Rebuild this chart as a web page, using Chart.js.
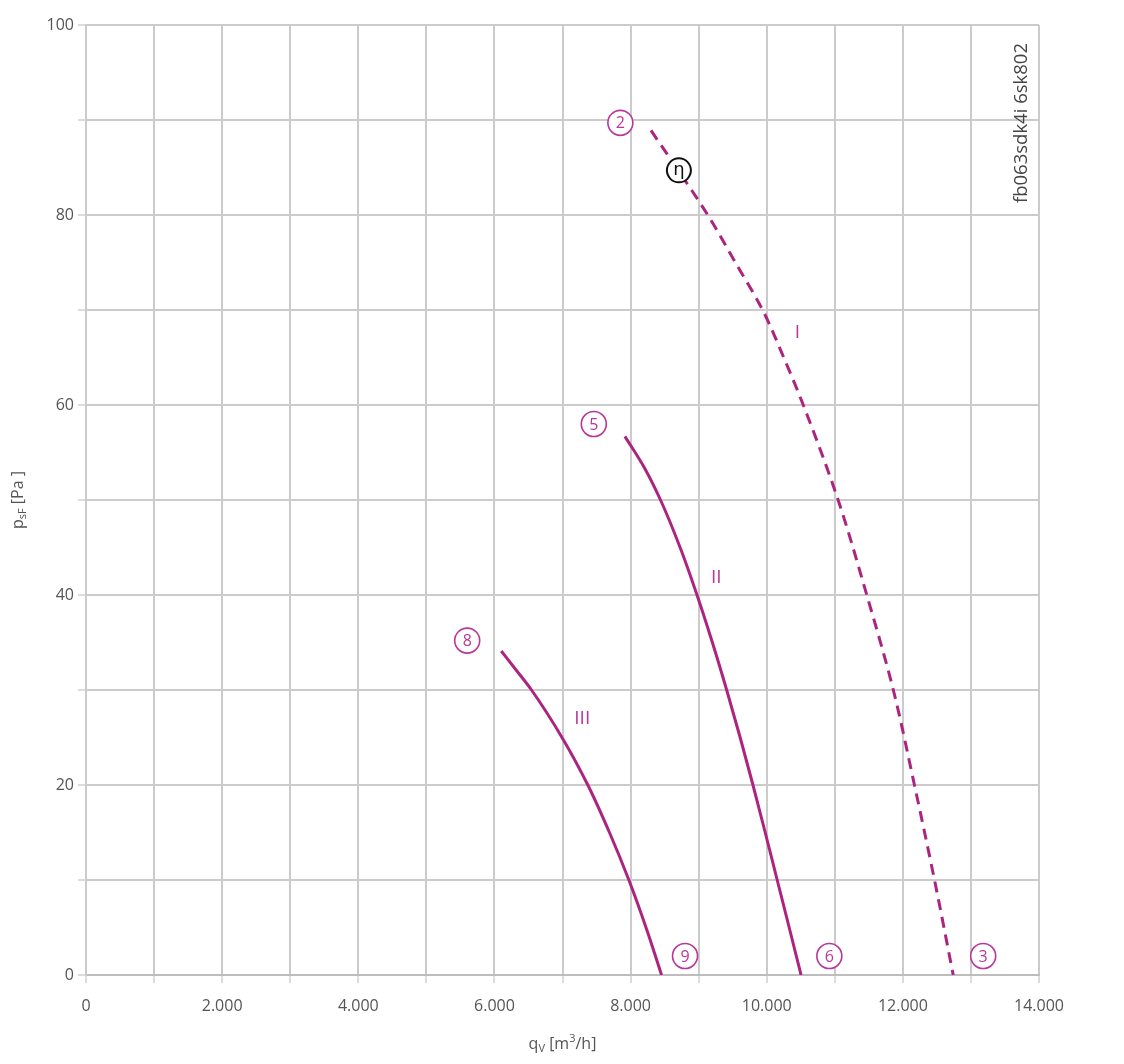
<!DOCTYPE html>
<html>
<head>
<meta charset="utf-8">
<script src="https://cdn.jsdelivr.net/npm/chart.js@4.4.1/dist/chart.umd.min.js"></script>
<style>
  html, body { margin: 0; padding: 0; background: #fff; }
  canvas { display: block; }
</style>
</head>
<body>
<canvas id="fanChart" width="1124" height="1064"></canvas>
<script>
// curve data, q in m3/h, p in Pa
const curveI   = [[8300, 88.9], [8700, 84.7], [9134, 80], [9540, 75], [9940, 70], [10250, 65], [10537, 60],
                  [11049, 50], [11470, 40], [11860, 30], [12170, 20], [12465, 10], [12740, 0]];
const curveII  = [[7917, 56.7], [8195, 53.5], [8440, 50], [8728, 45], [8976, 40], [9202, 35], [9412, 30], [9610, 25],
                  [9798, 20], [9978, 15], [10154, 10], [10330, 5], [10505, 0]];
const curveIII = [[6100, 34.1], [6330, 32], [6545, 30], [7010, 24.8], [7372, 20], [7690, 15], [7975, 10], [8237, 4.8], [8455, 0]];

const xTicks = [0, 2000, 4000, 6000, 8000, 10000, 12000, 14000];
const yTicks = [0, 20, 40, 60, 80, 100];

// point markers and curve names, placed in data units
const markerLabels = ['2', '5', '8', '9', '6', '3'];
const markerPos = [[7850, 89.7], [7460, 58.0], [5600, 35.2], [8800, 2.0], [10920, 2.0], [13180, 2.0]];
const etaPos = [8710, 84.7];
const curveNames = ['I', 'II', 'III'];
const curveNamePos = [[10450, 67.6], [9260, 41.8], [7290, 27.0]];

const magenta = '#ad2480';
const labelMagenta = '#b8379a';

function fmt(v) {
    return String(v).replace(/\B(?=(\d{3})+(?!\d))/g, '.');
}

function toXY(arr) {
    return arr.map(p => ({ x: p[0], y: p[1] }));
}

// draws text with sub/superscript pieces, centred at x,y
function drawRich(ctx, parts, x, y, size) {
    const fontFor = p => (p.sub || p.sup ? Math.round(size * 0.68) : size) + "px 'Open Sans', sans-serif";
    let total = 0;
    parts.forEach(p => { ctx.font = fontFor(p); total += ctx.measureText(p.t).width; });
    let cx = x - total / 2;
    ctx.textAlign = 'left';
    ctx.textBaseline = 'middle';
    parts.forEach(p => {
        ctx.font = fontFor(p);
        let dy = 0;
        if (p.sub) dy = size * 0.3;
        if (p.sup) dy = -size * 0.35;
        ctx.fillText(p.t, cx, y + dy);
        cx += ctx.measureText(p.t).width;
    });
}

const decorPlugin = {
    id: 'decor',
    afterDatasetsDraw(chart) {
        const ctx = chart.ctx;
        const xs = chart.scales.x, ys = chart.scales.y;
        const area = chart.chartArea;
        ctx.save();

        // circled point numbers
        markerLabels.forEach((lab, i) => {
            const px = xs.getPixelForValue(markerPos[i][0]);
            const py = ys.getPixelForValue(markerPos[i][1]);
            ctx.beginPath();
            ctx.arc(px, py, 12.5, 0, Math.PI * 2);
            ctx.fillStyle = '#fff';
            ctx.fill();
            ctx.lineWidth = 1.6;
            ctx.strokeStyle = labelMagenta;
            ctx.stroke();
            ctx.fillStyle = labelMagenta;
            ctx.font = "16px 'Open Sans', sans-serif";
            ctx.textAlign = 'center';
            ctx.textBaseline = 'middle';
            ctx.fillText(lab, px, py + 1);
        });

        // efficiency marker
        const ex = xs.getPixelForValue(etaPos[0]);
        const ey = ys.getPixelForValue(etaPos[1]);
        ctx.beginPath();
        ctx.arc(ex, ey, 12, 0, Math.PI * 2);
        ctx.fillStyle = '#fff';
        ctx.fill();
        ctx.lineWidth = 2;
        ctx.strokeStyle = '#111';
        ctx.stroke();
        ctx.fillStyle = '#111';
        ctx.font = "18px 'DejaVu Sans', sans-serif";
        ctx.textAlign = 'center';
        ctx.textBaseline = 'middle';
        ctx.fillText('\u03b7', ex, ey);

        // curve names
        ctx.fillStyle = labelMagenta;
        ctx.font = "19px 'Open Sans', sans-serif";
        curveNames.forEach((n, i) => {
            ctx.fillText(n, xs.getPixelForValue(curveNamePos[i][0]), ys.getPixelForValue(curveNamePos[i][1]));
        });

        // sheet code, vertical in the top right corner
        ctx.save();
        ctx.translate(area.right - 17, area.top + 98);
        ctx.rotate(-Math.PI / 2);
        ctx.fillStyle = '#444';
        ctx.font = "18.5px 'Open Sans', sans-serif";
        ctx.fillText('fb063sdk4i 6sk802', 0, 0);
        ctx.restore();

        // axis titles
        ctx.fillStyle = '#555';
        drawRich(ctx, [{ t: 'q' }, { t: 'V', sub: true }, { t: ' [m' }, { t: '3', sup: true }, { t: '/h]' }],
            (area.left + area.right) / 2, xs.bottom - 20, 16);
        ctx.save();
        ctx.translate(ys.left + 18, (area.top + area.bottom) / 2);
        ctx.rotate(-Math.PI / 2);
        drawRich(ctx, [{ t: 'p' }, { t: 'sF', sub: true }, { t: ' [Pa ]' }], 0, 0, 16);
        ctx.restore();

        ctx.restore();
    }
};

Chart.defaults.font.family = "'Open Sans', sans-serif";
Chart.defaults.font.size = 16;
Chart.defaults.color = '#555';

const fanChart = new Chart(document.getElementById('fanChart'), {
    type: 'scatter',
    data: {
        datasets: [
            { label: 'I', data: toXY(curveI), borderDash: [11, 7] },
            { label: 'II', data: toXY(curveII) },
            { label: 'III', data: toXY(curveIII) }
        ].map(d => Object.assign({
            showLine: true,
            borderColor: magenta,
            borderWidth: 3,
            pointRadius: 0,
            // curves are steep, so interpolate along the pressure axis
            indexAxis: 'y',
            cubicInterpolationMode: 'monotone',
            fill: false
        }, d))
    },
    options: {
        responsive: false,
        animation: false,
        layout: { padding: { top: 25, right: 85, left: 0, bottom: 0 } },
        plugins: { legend: { display: false }, tooltip: { enabled: false } },
        scales: {
            x: {
                type: 'linear',
                min: 0, max: 14000,
                afterFit: s => { s.height = 89; },
                afterBuildTicks: s => {
                    s.ticks = [];
                    for (let v = 0; v <= 14000; v += 1000) s.ticks.push({ value: v });
                },
                grid: { color: '#cbcbcb', lineWidth: 2, tickLength: 8, tickColor: '#dcdcdc' },
                border: { color: '#bdbdbd', width: 2 },
                ticks: {
                    padding: 14,
                    maxRotation: 0,
                    autoSkip: false,
                    callback: v => xTicks.includes(v) ? fmt(v) : ''
                }
            },
            y: {
                type: 'linear',
                position: 'left',
                min: 0, max: 100,
                afterFit: s => { s.width = 86; },
                afterBuildTicks: s => {
                    s.ticks = [];
                    for (let v = 0; v <= 100; v += 10) s.ticks.push({ value: v });
                },
                grid: { color: '#cbcbcb', lineWidth: 2, tickLength: 8, tickColor: '#dcdcdc' },
                border: { color: '#cbcbcb', width: 2 },
                ticks: {
                    padding: 4,
                    autoSkip: false,
                    callback: v => yTicks.includes(v) ? String(v) : ''
                }
            }
        }
    },
    plugins: [decorPlugin]
});
</script>
</body>
</html>
